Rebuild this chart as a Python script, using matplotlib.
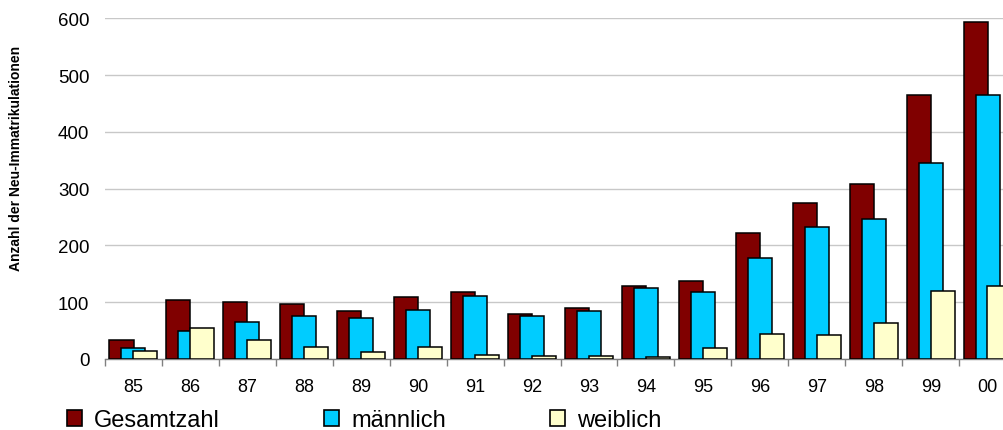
import matplotlib
matplotlib.use("Agg")
import matplotlib.pyplot as plt
from matplotlib.patches import Patch
import numpy as np

plt.rcParams['font.family'] = ['Liberation Sans', 'DejaVu Sans']

# Neu-Immatrikulationen pro Jahrgang
jahre = ['85', '86', '87', '88', '89', '90', '91', '92', '93', '94', '95', '96', '97', '98', '99', '00']
gesamtzahl = [34, 104, 100, 96, 84, 109, 118, 80, 89, 128, 138, 222, 275, 309, 465, 594]
maennlich = [20, 50, 66, 75, 72, 87, 111, 75, 84, 125, 118, 178, 233, 246, 345, 465]
weiblich = [14, 54, 34, 21, 12, 22, 7, 5, 5, 3, 20, 44, 42, 63, 120, 129]
y_ticks = [0, 100, 200, 300, 400, 500, 600]

W, H = 1004, 431
fig = plt.figure(figsize=(W / 100, H / 100), dpi=100)
left, right, top, bottom = 104.7, 1016.3, 19.3, 360.0
ax = fig.add_axes([left / W, 1 - bottom / H, (right - left) / W, (bottom - top) / H])

x = np.arange(len(jahre))
bw = 0.425
off = 0.207
edge = dict(edgecolor='black', linewidth=1.1, zorder=3)
ax.bar(x - off, gesamtzahl, bw, color='#800000', label='Gesamtzahl', **edge)
ax.bar(x, maennlich, bw, color='#00CCFF', label='männlich', **edge)
ax.bar(x + off, weiblich, bw, color='#FFFFCC', label='weiblich', **edge)

ax.set_xlim(-0.5, len(jahre) - 0.5)
ax.set_ylim(0, 600)
ax.set_yticks(y_ticks)
ax.yaxis.grid(True, color='#C8C8C8', linewidth=1.0, zorder=0)
ax.set_axisbelow(True)

ax.set_xticks(x)
ax.set_xticklabels(jahre)
ax.set_xticks(np.arange(-0.5, len(jahre)), minor=True)
ax.tick_params(axis='x', which='major', length=0, pad=14, labelsize=13)
ax.tick_params(axis='x', which='minor', length=5, color='#808080', width=1)
ax.tick_params(axis='y', length=0, pad=11, labelsize=13.5)

for s in ['left', 'right', 'top']:
    ax.spines[s].set_visible(False)
ax.spines['bottom'].set_color('#808080')
ax.spines['bottom'].set_linewidth(1)

fig.text(16 / W, 1 - 158 / H, 'Anzahl der Neu-Immatrikulationen', rotation=90,
         ha='center', va='center', fontsize=10, fontweight='bold')

handles = [Patch(facecolor='#800000', edgecolor='black', linewidth=1.2),
           Patch(facecolor='#00CCFF', edgecolor='black', linewidth=1.2),
           Patch(facecolor='#FFFFCC', edgecolor='black', linewidth=1.2)]
fig.legend(handles, ['Gesamtzahl', 'männlich', 'weiblich'], loc='center left',
           bbox_to_anchor=(67 / W, 1 - 421 / H), ncol=3, frameon=False,
           fontsize=17, handlelength=0.65, handleheight=0.65, handletextpad=0.5,
           columnspacing=4.4, borderpad=0, borderaxespad=0)

fig.savefig('out.png', dpi=100)
